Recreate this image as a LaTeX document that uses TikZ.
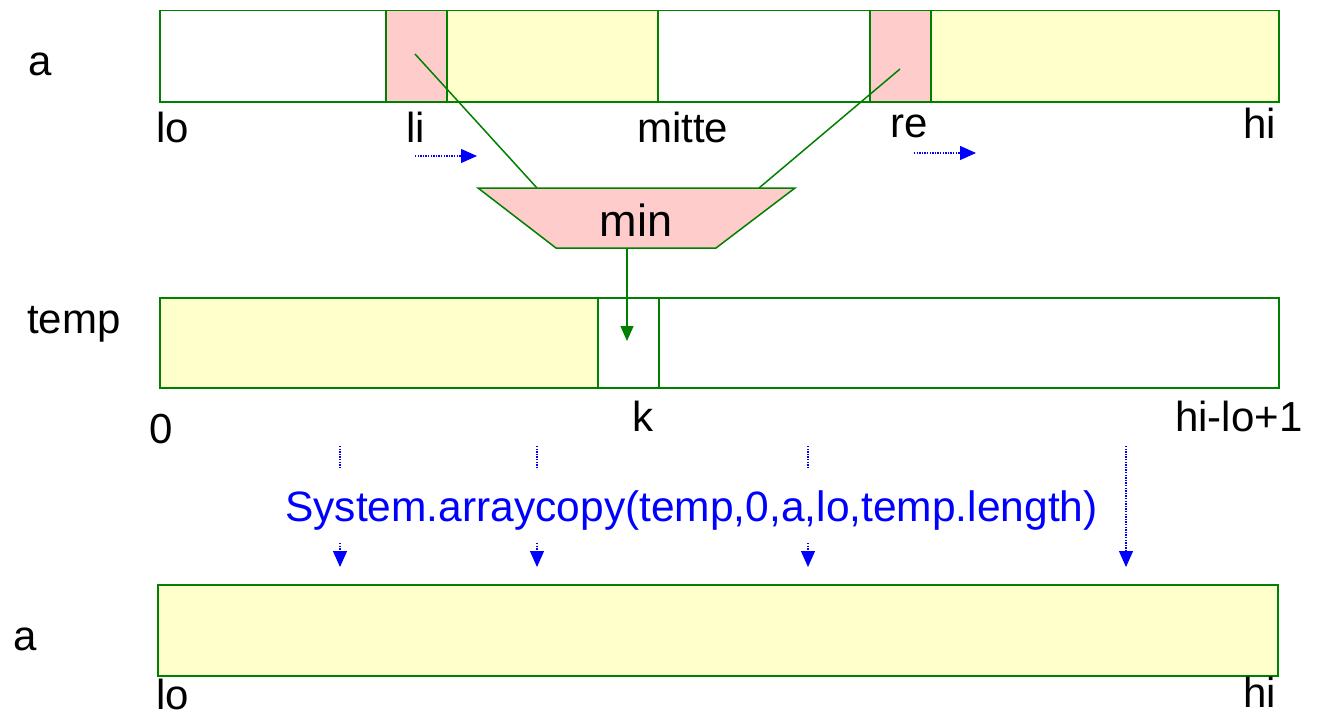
\documentclass[tikz,border=0pt]{standalone}
\usepackage{fontspec}
\setmainfont{Liberation Sans}
\usetikzlibrary{arrows.meta}
\definecolor{grn}{HTML}{008000}
\definecolor{pinkc}{HTML}{FFCCCC}
\definecolor{yelc}{HTML}{FFFFCC}
\definecolor{blu}{HTML}{0000FF}
\begin{document}
\begin{tikzpicture}[x=1pt,y=-1pt,
  cell/.style={draw=grn,line width=1.5pt,anchor=north west,inner sep=0pt,minimum height=91pt},
  lbl/.style={font=\fontsize{42}{42}\selectfont,inner sep=0pt,anchor=base west},
  grnline/.style={draw=grn,line width=1.5pt},
  bluedot/.style={draw=blu,line width=1.2pt,dash pattern=on 1.3pt off 1.3pt},
  blutip/.style={-{Triangle[length=16pt,width=14pt]},blu}
]
\useasboundingbox (0,0) rectangle (1317,717);
% top array a
\node[cell,fill=white,minimum width=226pt] (a1) at (159,10) {};
\node[cell,fill=pinkc,minimum width=61pt] (a2) at (385,10) {};
\node[cell,fill=yelc,minimum width=211pt] (a3) at (446,10) {};
\node[cell,fill=white,minimum width=212pt] (a4) at (657,10) {};
\node[cell,fill=pinkc,minimum width=61pt] (a5) at (869,10) {};
\node[cell,fill=yelc,minimum width=348pt] (a6) at (930,10) {};
% temp array
\node[cell,fill=yelc,minimum width=438pt,minimum height=90pt] (t1) at (159,297) {};
\node[cell,fill=white,minimum width=61pt,minimum height=90pt] (t2) at (597,297) {};
\node[cell,fill=white,minimum width=620pt,minimum height=90pt] (t3) at (658,297) {};
% bottom array
\node[cell,fill=yelc,minimum width=1120pt] (b1) at (157,584) {};
% labels
\node[lbl] (la) at (28,76) {a};
\node[lbl] (llo) at (156,142) {lo};
\node[lbl] (lli) at (406,142) {li};
\node[lbl] (lmitte) at (637,142) {mitte};
\node[lbl] (lre) at (890,137) {re};
\node[lbl] (lhi) at (1243,138) {hi};
\node[lbl] (ltemp) at (27,333) {temp};
\node[lbl] (lzero) at (149,443) {0};
\node[lbl] (lk) at (632,431) {k};
\node[lbl] (lhilo) at (1175,431) {hi-lo+1};
\node[lbl] (la2) at (13,650) {a};
\node[lbl] (llo2) at (156,709) {lo};
\node[lbl] (lhi2) at (1243,707) {hi};
% min trapezoid
\coordinate (tl) at (478,188);
\coordinate (tr) at (795,188);
\coordinate (br) at (716,248);
\coordinate (bl) at (556,248);
\filldraw[fill=pinkc,grnline] (tl) -- (tr) -- (br) -- (bl) -- cycle;
\node[font=\fontsize{45}{45}\selectfont,inner sep=0pt,anchor=base] (min) at (636,236) {min};
% connectors to min
\coordinate (liP) at (415,54);
\coordinate (trL) at (537,188);
\coordinate (reP) at (900,69);
\coordinate (trR) at (759,188);
\draw[grnline] (liP) -- (trL);
\draw[grnline] (reP) -- (trR);
\coordinate (trB) at (627,248);
\coordinate (kP) at (627,341);
\draw[grnline,-{Triangle[length=15pt,width=13pt]}] (trB) -- (kP);
% small blue arrows
\coordinate (li1) at (415,156);
\coordinate (li2) at (477,156);
\coordinate (re1) at (914,153);
\coordinate (re2) at (976,153);
\draw[bluedot,blutip] (li1) -- (li2);
\draw[bluedot,blutip] (re1) -- (re2);
% arraycopy text
\node[font=\fontsize{42.5}{42.5}\selectfont,text=blu,inner sep=0pt,anchor=base west] (copy) at (285,521) {System.arraycopy(temp,0,a,lo,temp.length)};
% vertical arrows
\foreach \X/\n in {340/p, 537/q, 808/r}{
  \coordinate (\n1) at (\X,446);
  \coordinate (\n2) at (\X,469);
  \coordinate (\n3) at (\X,543);
  \coordinate (\n4) at (\X,567);
  \draw[bluedot] (\n1) -- (\n2);
  \draw[bluedot,blutip] (\n3) -- (\n4);
}
\coordinate (s1) at (1126,446);
\coordinate (s4) at (1126,567);
\draw[bluedot,blutip] (s1) -- (s4);
\end{tikzpicture}
\end{document}
